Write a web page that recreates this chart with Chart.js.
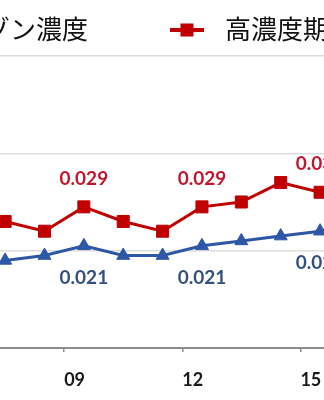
<!DOCTYPE html>
<html lang="ja">
<head>
<meta charset="utf-8">
<script src="https://cdn.jsdelivr.net/npm/chart.js@4.4.1/dist/chart.umd.min.js"></script>
<style>
  html, body { margin: 0; padding: 0; background: #fff; }
  #wrap { position: relative; width: 324px; height: 400px; }
</style>
</head>
<body>
<div id="wrap"><canvas id="chart"></canvas></div>
<script>
(function () {
  'use strict';

  var YEARS = ['07', '08', '09', '10', '11', '12', '13', '14', '15'];
  var HIGH_SEASON = [0.026, 0.024, 0.029, 0.026, 0.024, 0.029, 0.030, 0.034, 0.032];
  var ANNUAL_MEAN = [0.018, 0.019, 0.021, 0.019, 0.019, 0.021, 0.022, 0.023, 0.024];
  var TICK_LABELS = ['09', '12', '15'];
  var LABELLED_YEARS = ['09', '12', '15'];
  var SERIES_NAMES = ['オゾン濃度', '高濃度期平均'];

  var RED = '#c00000';
  var BLUE = '#2e57a5';

  function points(values) {
    return values.map(function (v, i) { return { x: i, y: v }; });
  }

  var tickPos = TICK_LABELS.map(function (t) { return YEARS.indexOf(t) - 0.5; });

  function drawMarker(ctx, style, x, y, r, color) {
    ctx.fillStyle = color;
    ctx.beginPath();
    if (style === 'rect') {
      ctx.rect(x - r, y - r, 2 * r, 2 * r);
    } else {
      ctx.moveTo(x, y - r);
      ctx.lineTo(x + r * 0.95, y + r * 0.7);
      ctx.lineTo(x - r * 0.95, y + r * 0.7);
      ctx.closePath();
    }
    ctx.fill();
  }

  var legendPlugin = {
    id: 'topLegend',
    afterDraw: function (chart) {
      var ctx = chart.ctx;
      var y = 29;
      ctx.save();
      ctx.font = '26px "Noto Sans CJK JP", sans-serif';
      ctx.textBaseline = 'middle';
      ctx.textAlign = 'left';
      var w1 = ctx.measureText(SERIES_NAMES[0]).width;
      var x2 = 170;
      var x1 = x2 - 82 - w1 - 55;
      [[x1, chart.data.datasets[0]], [x2, chart.data.datasets[1]]].forEach(function (it) {
        var x = it[0], ds = it[1];
        ctx.strokeStyle = ds.borderColor;
        ctx.lineWidth = 4;
        ctx.beginPath();
        ctx.moveTo(x, y + 1);
        ctx.lineTo(x + 34, y + 1);
        ctx.stroke();
        drawMarker(ctx, ds.pointStyle, x + 17, y + 1, 6.5, ds.borderColor);
        ctx.fillStyle = '#111';
        ctx.fillText(ds.label, x + 55, y);
      });
      ctx.restore();
    }
  };

  var valueLabels = {
    id: 'valueLabels',
    afterDatasetsDraw: function (chart) {
      var ctx = chart.ctx;
      ctx.save();
      ctx.font = 'bold 19px Lato, sans-serif';
      ctx.textAlign = 'center';
      ctx.textBaseline = 'middle';
      chart.data.datasets.forEach(function (ds, i) {
        var meta = chart.getDatasetMeta(i);
        ctx.fillStyle = ds.labelColor;
        LABELLED_YEARS.forEach(function (yr) {
          var idx = YEARS.indexOf(yr);
          var pt = meta.data[idx];
          ctx.fillText(ds.data[idx].y.toFixed(3), pt.x, pt.y + ds.labelOffset);
        });
      });
      ctx.restore();
    }
  };

  new Chart(document.getElementById('chart'), {
    type: 'line',
    data: {
      datasets: [
        {
          label: SERIES_NAMES[0],
          data: points(ANNUAL_MEAN),
          borderColor: BLUE,
          backgroundColor: BLUE,
          borderWidth: 3,
          pointStyle: 'triangle',
          pointRadius: 7.5,
          pointBorderWidth: 1,
          labelColor: '#34507f',
          labelOffset: 32
        },
        {
          label: SERIES_NAMES[1],
          data: points(HIGH_SEASON),
          borderColor: RED,
          backgroundColor: RED,
          borderWidth: 3,
          pointStyle: 'rect',
          pointRadius: 8.5,
          pointBorderWidth: 1,
          labelColor: '#c3152c',
          labelOffset: -28
        }
      ]
    },
    options: {
      responsive: true,
      maintainAspectRatio: false,
      animation: false,
      layout: { autoPadding: false, padding: { top: 56, left: 0, right: 0, bottom: 0 } },
      plugins: { legend: { display: false }, tooltip: { enabled: false } },
      scales: {
        x: {
          type: 'linear',
          min: -0.13,
          max: 8.1,
          afterBuildTicks: function (scale) {
            scale.ticks = tickPos.map(function (v) { return { value: v }; });
          },
          afterFit: function (scale) {
            scale.height = 52;
            scale.paddingLeft = 0;
            scale.paddingRight = 0;
          },
          border: { display: true, color: '#8c8c8c', width: 2 },
          grid: { drawOnChartArea: false, drawTicks: true, tickLength: 4, color: '#8c8c8c', lineWidth: 1.5 },
          ticks: {
            autoSkip: false,
            maxRotation: 0,
            align: 'start',
            padding: 17,
            color: '#1a1a1a',
            font: { family: 'Lato, sans-serif', size: 18, weight: 'bold' },
            callback: function (v) {
              var i = tickPos.indexOf(v);
              return i >= 0 ? TICK_LABELS[i] : '';
            }
          }
        },
        y: {
          min: 0,
          max: 0.06,
          afterFit: function (scale) {
            scale.width = 0;
            scale.paddingTop = 0;
            scale.paddingBottom = 0;
          },
          ticks: { display: false, stepSize: 0.02 },
          border: { display: false },
          grid: { color: '#dcdcdc', lineWidth: 1.5, drawTicks: false }
        }
      }
    },
    plugins: [legendPlugin, valueLabels]
  });
})();
</script>
</body>
</html>
